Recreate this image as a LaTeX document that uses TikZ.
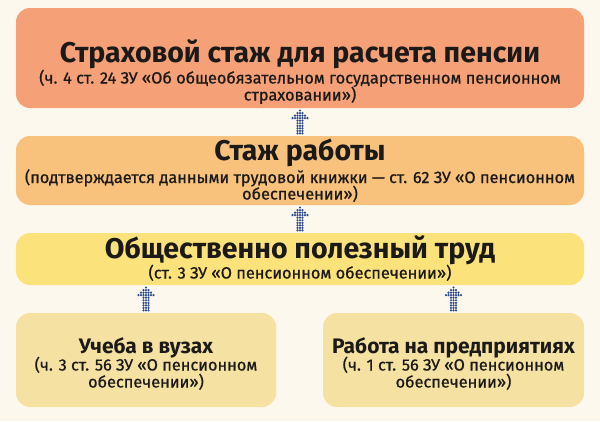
\documentclass[tikz,border=0pt]{standalone}
\usepackage{fontspec}
\setmainfont{Fira Sans}
\newfontfamily\subfont{Fira Sans}[FakeBold=0.8]
\usetikzlibrary{calc}
\definecolor{bgc}{HTML}{FDF8EE}
\definecolor{cA}{HTML}{F5A077}
\definecolor{cB}{HTML}{F8C27C}
\definecolor{cC}{HTML}{FCE27A}
\definecolor{cD}{HTML}{F5E1A2}
\definecolor{dotc}{HTML}{2A4A8E}
\definecolor{txt}{HTML}{1C1A18}
\tikzset{
  box/.style={rectangle, rounded corners=14pt, draw=none, inner sep=0pt},
  ttl/.style={anchor=base, text=txt, inner sep=0pt, font=\fontsize{28.5}{32}\selectfont\bfseries},
  ttlsmall/.style={anchor=base, text=txt, inner sep=0pt, font=\fontsize{21}{24}\selectfont\bfseries},
  sub/.style={anchor=base, text=txt, inner sep=0pt, font=\subfont\fontsize{16.3}{19}\selectfont},
  dotarrow/.pic={
    \foreach \r/\w in {0/0,1/1,2/2,3/3,4/1,5/1,6/1,7/1,8/1,9/1}{
      \foreach \c in {-\w,...,\w}{
        \fill[dotc] (\c*2.5,-11.5+\r*2.55) circle (1.22);
      }
    }
  }
}
\begin{document}
\begin{tikzpicture}[x=1pt,y=-1pt]
\fill[bgc] (0,0) rectangle (600,421);
\useasboundingbox (0,0) rectangle (600,421);
% boxes
\node[box, fill=cA, minimum width=568pt, minimum height=100pt] (b1) at (300,58) {};
\node[box, fill=cB, minimum width=568pt, minimum height=69pt] (b2) at (300,170.5) {};
\node[box, fill=cC, minimum width=568pt, minimum height=52pt] (b3) at (300,259) {};
\node[box, fill=cD, minimum width=260pt, minimum height=94pt] (b4) at (146,360) {};
\node[box, fill=cD, minimum width=261pt, minimum height=94pt] (b5) at (453.5,360) {};
% texts
\node[ttl] (t1) at (300,62) {Страховой стаж для расчета пенсии};
\node[sub] (s1a) at (300,83.5) {(ч. 4 ст. 24 ЗУ «Об общеобязательном государственном пенсионном};
\node[sub] (s1b) at (300,100.5) {страховании»)};
\node[ttl] (t2) at (300,160.5) {Стаж работы};
\node[sub] (s2a) at (300,183) {(подтверждается данными трудовой книжки — ст. 62 ЗУ «О пенсионном};
\node[sub] (s2b) at (300,199.5) {обеспечении»)};
\node[ttl] (t3) at (300,258) {Общественно полезный труд};
\node[sub] (s3a) at (300,278.5) {(ст. 3 ЗУ «О пенсионном обеспечении»)};
\node[ttlsmall] (t4) at (146,353) {Учеба в вузах};
\node[sub] (s4a) at (146,370.5) {(ч. 3 ст. 56 ЗУ «О пенсионном};
\node[sub] (s4b) at (146,387.5) {обеспечении»)};
\node[ttlsmall] (t5) at (453.5,353) {Работа на предприятиях};
\node[sub] (s5a) at (453.5,370.5) {(ч. 1 ст. 56 ЗУ «О пенсионном};
\node[sub] (s5b) at (453.5,387.5) {обеспечении»)};
% dotted arrows
\pic at ($(b1.south)!0.5!(b2.north)$) {dotarrow};
\pic at ($(b2.south)!0.5!(b3.north)$) {dotarrow};
\pic at ($(b4.north)!0.5!(b4.north |- b3.south)$) {dotarrow};
\pic at ($(b5.north)!0.5!(b5.north |- b3.south)$) {dotarrow};
\end{tikzpicture}
\end{document}
